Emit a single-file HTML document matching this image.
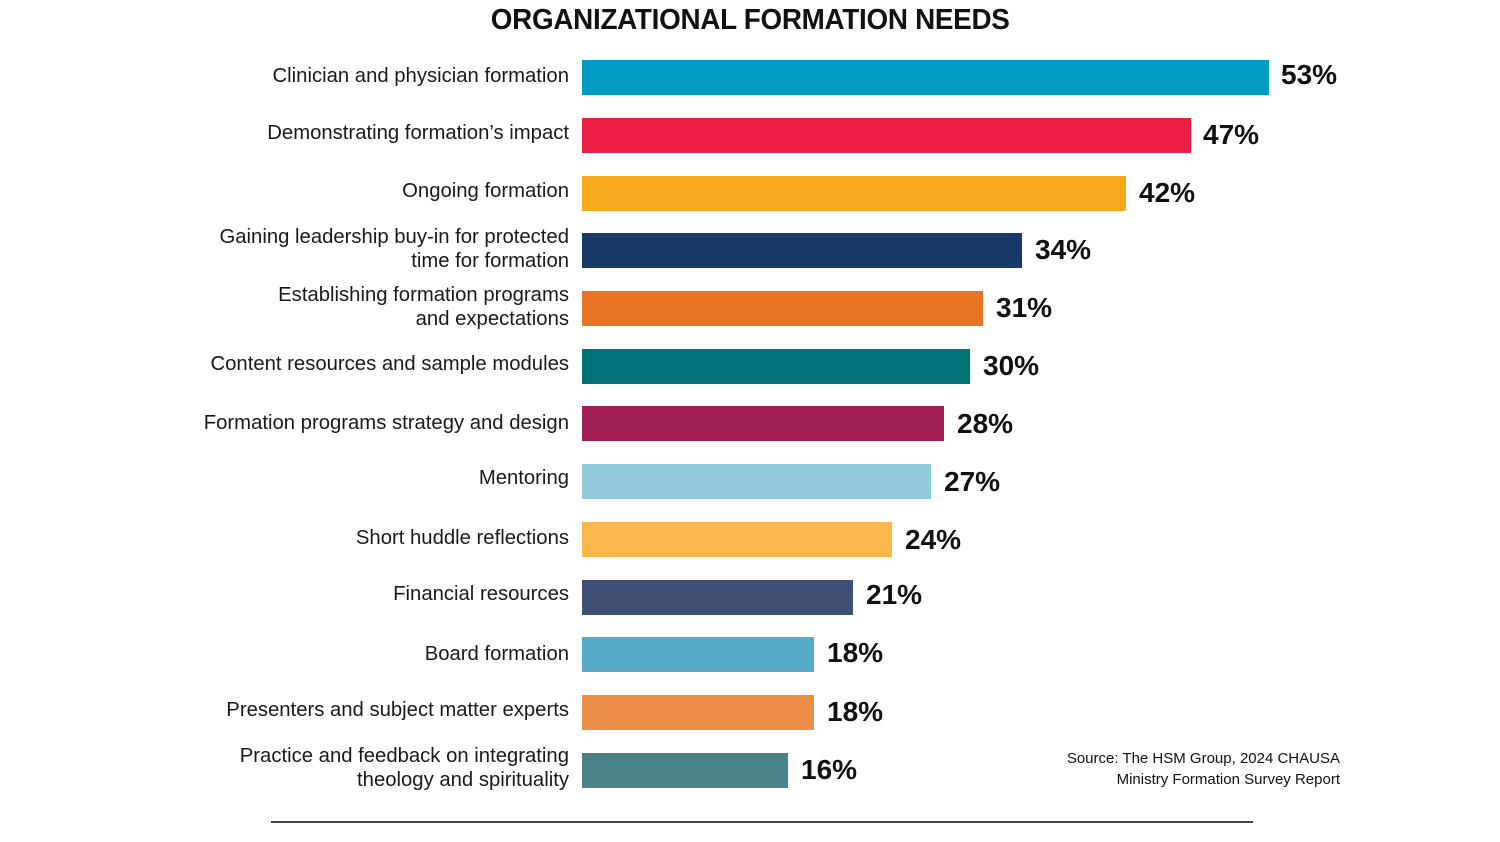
<!DOCTYPE html>
<html><head><meta charset="utf-8"><style>
body{margin:0;width:1500px;height:842px;background:#fff;position:relative;overflow:hidden;font-family:"Liberation Sans",sans-serif;color:#111}
.t{position:absolute;top:4px;left:0;width:1500px;text-align:center;font-weight:bold;font-size:29px;letter-spacing:-0.3px}
.t span{display:inline-block;transform:scaleX(0.96)}
.b{position:absolute;left:582px;height:35px}
.l{position:absolute;right:931px;text-align:right;font-size:20.3px;line-height:24px;color:#1a1a1a}
.v{position:absolute;font-weight:bold;font-size:28px;line-height:35px;color:#111}
.s{position:absolute;right:160px;top:748px;text-align:right;font-size:15px;line-height:21px}
.h{position:absolute;left:271px;top:821px;width:982px;height:2px;background:#444}
</style></head><body>
<div class="t"><span>ORGANIZATIONAL FORMATION NEEDS</span></div>

<div class="b" style="top:60px;width:687px;background:#009cc3"></div><div class="l" style="top:64px">Clinician and physician formation</div><div class="v" style="top:57px;left:1281px">53%</div>
<div class="b" style="top:118px;width:609px;background:#ec2044"></div><div class="l" style="top:121px">Demonstrating formation’s impact</div><div class="v" style="top:117px;left:1203px">47%</div>
<div class="b" style="top:176px;width:544px;background:#f9a91d"></div><div class="l" style="top:179px">Ongoing formation</div><div class="v" style="top:175px;left:1139px">42%</div>
<div class="b" style="top:233px;width:440px;background:#173a68"></div><div class="l" style="top:225px">Gaining leadership buy-in for protected<br>time for formation</div><div class="v" style="top:232px;left:1035px">34%</div>
<div class="b" style="top:291px;width:401px;background:#e87424"></div><div class="l" style="top:283px">Establishing formation programs<br>and expectations</div><div class="v" style="top:290px;left:996px">31%</div>
<div class="b" style="top:349px;width:388px;background:#017278"></div><div class="l" style="top:352px">Content resources and sample modules</div><div class="v" style="top:348px;left:983px">30%</div>
<div class="b" style="top:406px;width:362px;background:#a01e51"></div><div class="l" style="top:411px">Formation programs strategy and design</div><div class="v" style="top:406px;left:957px">28%</div>
<div class="b" style="top:464px;width:349px;background:#8fcbd8"></div><div class="l" style="top:466px">Mentoring</div><div class="v" style="top:464px;left:944px">27%</div>
<div class="b" style="top:522px;width:310px;background:#fbb64c"></div><div class="l" style="top:526px">Short huddle reflections</div><div class="v" style="top:522px;left:905px">24%</div>
<div class="b" style="top:580px;width:271px;background:#404f74"></div><div class="l" style="top:582px">Financial resources</div><div class="v" style="top:577px;left:866px">21%</div>
<div class="b" style="top:637px;width:232px;background:#59abca"></div><div class="l" style="top:642px">Board formation</div><div class="v" style="top:635px;left:827px">18%</div>
<div class="b" style="top:695px;width:232px;background:#ec8e48"></div><div class="l" style="top:698px">Presenters and subject matter experts</div><div class="v" style="top:694px;left:827px">18%</div>
<div class="b" style="top:753px;width:206px;background:#4a8288"></div><div class="l" style="top:744px">Practice and feedback on integrating<br>theology and spirituality</div><div class="v" style="top:752px;left:801px">16%</div>

<div class="s">Source: The HSM Group, 2024 CHAUSA<br>Ministry Formation Survey Report</div>
<div class="h"></div>
</body></html>
